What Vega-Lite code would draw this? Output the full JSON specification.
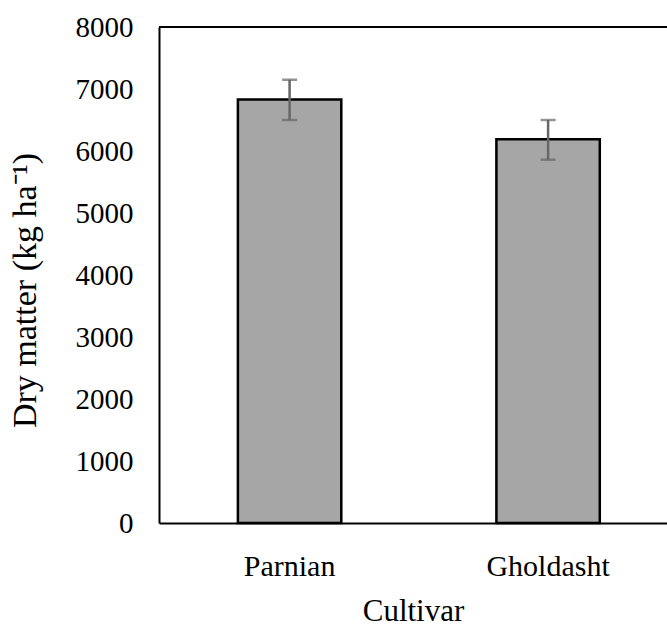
{
  "$schema": "https://vega.github.io/schema/vega-lite/v6.json",
  "autosize": {"type": "none"},
  "padding": {"left": 159, "top": 27, "right": 0, "bottom": 107},
  "width": 508,
  "height": 496,
  "background": "white",
  "config": {
    "view": {"stroke": null},
    "font": "Liberation Serif",
    "axis": {"grid": false, "ticks": false, "domainColor": "black", "domainWidth": 2, "labelColor": "black", "titleColor": "black", "labelFont": "Liberation Serif", "titleFont": "Liberation Serif", "labelFontWeight": "normal", "titleFontWeight": "normal"}
  },
  "data": {
    "values": [
      {"cultivar": "Parnian", "dm": 6830, "lo": 6500, "hi": 7150},
      {"cultivar": "Gholdasht", "dm": 6190, "lo": 5860, "hi": 6500}
    ]
  },
  "layer": [
    {
      "mark": {"type": "bar", "fill": "#a6a6a6", "stroke": "black", "strokeWidth": 2.5},
      "encoding": {
        "x": {
          "field": "cultivar", "type": "nominal", "sort": ["Parnian", "Gholdasht"],
          "scale": {"type": "band", "paddingInner": 0.6, "paddingOuter": 0.2826, "align": 0.54},
          "axis": {"title": "Cultivar", "labelAngle": 0, "labelFontSize": 30, "titleFontSize": 31, "labelPadding": 28, "titlePadding": 15, "labelBaseline": "top"}
        },
        "y": {
          "field": "dm", "type": "quantitative",
          "scale": {"domain": [0, 8000], "nice": false},
          "axis": {"values": [0, 1000, 2000, 3000, 4000, 5000, 6000, 7000, 8000], "format": "d", "labelFontSize": 29, "labelPadding": 26, "title": "Dry matter (kg ha⁻¹)", "titleFontSize": 34, "titleAngle": -90, "titleBaseline": "alphabetic", "titleX": -124, "titleY": 263}
        }
      }
    },
    {
      "mark": {"type": "rule", "color": "#666666", "strokeWidth": 2.5},
      "encoding": {
        "x": {"field": "cultivar", "type": "nominal", "sort": ["Parnian", "Gholdasht"]},
        "y": {"field": "lo", "type": "quantitative"},
        "y2": {"field": "hi"}
      }
    },
    {
      "mark": {"type": "tick", "color": "#666666", "thickness": 2.5, "size": 15, "orient": "horizontal"},
      "encoding": {
        "x": {"field": "cultivar", "type": "nominal", "sort": ["Parnian", "Gholdasht"]},
        "y": {"field": "lo", "type": "quantitative"}
      }
    },
    {
      "mark": {"type": "tick", "color": "#666666", "thickness": 2.5, "size": 15, "orient": "horizontal"},
      "encoding": {
        "x": {"field": "cultivar", "type": "nominal", "sort": ["Parnian", "Gholdasht"]},
        "y": {"field": "hi", "type": "quantitative"}
      }
    },
    {
      "mark": {"type": "rule", "color": "black", "strokeWidth": 2},
      "encoding": {"y": {"datum": 8000}}
    }
  ]
}
